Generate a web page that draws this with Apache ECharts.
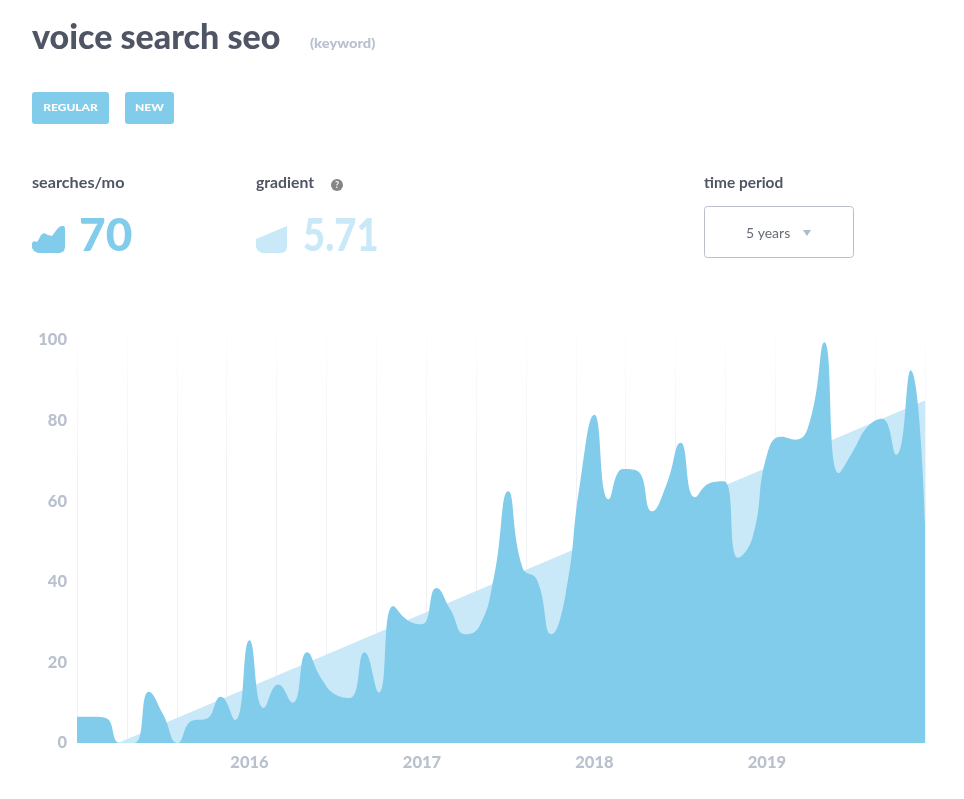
<!DOCTYPE html>
<html><head><meta charset="utf-8">
<style>html,body{margin:0;padding:0;background:#fff}#c{width:964px;height:799px}</style>
<script src="https://cdn.jsdelivr.net/npm/echarts@6/dist/echarts.min.js"></script>
</head><body><div id="c"></div>
<script>
const searches=[6.5,6.5,6.2,0,0,12.7,7,0,5.5,6,11.5,5.7,25.5,8.7,14.5,10,22.5,16,12,11.2,22.5,12.5,34,30.5,29.5,38.5,33,27,29,41,62.5,43.5,40.5,27,37,64.5,81.5,60.5,68,67.5,57.5,64,74.5,61,64.5,65,46,51,71.5,76,75.3,80,99.5,67,72.5,78.5,80.5,71.5,92.5,55];
const trendMonths=[2.85,59];
const trendValues=[0,85];
const yearLabels=['2016','2017','2018','2019'];
const yearMonths=[12,24,36,48];
const yTicks=[0,20,40,60,80,100];
const SANS='Lato, "Noto Sans", sans-serif';
const INK='#4f5564', MUTED='#b9c0ce', BLUE='#81cceb', PALE='#c9e9f8';
const chart=echarts.init(document.getElementById('c'),null,{renderer:'canvas'});
function t(x,y,text,font,fill,extra,scaleX){return {type:'text',x,y,originX:0,originY:0,scaleX:scaleX||1,silent:true,style:Object.assign({text,font,fill,textVerticalAlign:'middle'},extra||{})};}
function badge(x,w,text){return [
 {type:'rect',shape:{x,y:92,width:w,height:32,r:3},style:{fill:BLUE},silent:true},
 t(x+w/2,108,text,'900 10px '+SANS,'#fff',{textAlign:'center'},1.2)];}
chart.setOption({
 animation:false,
 grid:{left:77,right:39,top:320,bottom:56,containLabel:false},
 xAxis:[
  {type:'value',min:0,max:59,position:'bottom',
   axisLine:{show:false},axisTick:{show:false},splitLine:{show:false},
   axisLabel:{customValues:yearMonths,formatter:v=>yearLabels[yearMonths.indexOf(v)],color:MUTED,fontFamily:SANS,fontWeight:900,fontSize:16.5,margin:11}},
  {type:'value',min:0,max:59,interval:59/17,position:'bottom',
   axisLine:{show:false},axisTick:{show:false},axisLabel:{show:false},
   splitLine:{show:true,lineStyle:{width:1,color:{type:'linear',x:0,y:312,x2:0,y2:480,global:true,colorStops:[{offset:0,color:'#ffffff'},{offset:1,color:'#eff1f4'}]}}}}
 ],
 yAxis:{type:'value',min:0,max:105,interval:20,
  axisLine:{show:false},axisTick:{show:false},splitLine:{show:false},
  axisLabel:{customValues:yTicks,color:MUTED,fontFamily:SANS,fontWeight:900,fontSize:16.5,margin:10,verticalAlign:'middle'}},
 series:[
  {type:'line',name:'gradient',symbol:'none',xAxisIndex:0,data:trendMonths.map((m,i)=>[m,trendValues[i]]),
   lineStyle:{width:0},areaStyle:{color:PALE,opacity:1},z:2},
  {type:'line',name:'searches/mo',symbol:'none',xAxisIndex:0,smooth:0.5,
   data:searches.map((v,i)=>[i,v]),lineStyle:{width:0},areaStyle:{color:BLUE,opacity:1},z:3}
 ],
 graphic:{elements:[
  t(32,38,'voice search seo','900 34px '+SANS,INK),
  t(310,43,'(keyword)','900 14px '+SANS,MUTED,null,1.05),
  ...badge(32,77,'REGULAR'),...badge(125,49,'NEW'),
  t(32,183,'searches/mo','700 15px '+SANS,INK,null,1.08),
  t(256,183,'gradient','700 15px '+SANS,INK,null,1.05),
  {type:'circle',shape:{cx:337,cy:185,r:6},style:{fill:'#858585'},silent:true},
  t(337,185,'?','700 9px '+SANS,'#fff',{textAlign:'center'}),
  t(704,183,'time period','700 15px '+SANS,INK,null,1.03),
  {type:'polygon',silent:true,shape:{points:[[32,243],[34,241],[37,242],[39,239],[41,235],[44,233],[48,235],[52,236],[55,232],[58,228],[61,226],[64,226],[65,228],[65,247],[64,251],[60,253],[38,253],[34,251],[32,248]]},style:{fill:BLUE}},
  t(79,236,'70','900 46px '+SANS,BLUE),
  {type:'polygon',silent:true,shape:{points:[[256,239],[287,226],[287,247],[286,251],[282,253],[262,253],[258,251],[256,247]]},style:{fill:PALE}},
  t(303,236,'5.71','900 46px '+SANS,PALE,null,0.83),
  {type:'rect',shape:{x:704.5,y:206.5,width:149,height:51,r:3},style:{fill:'#fff',stroke:'#b9bec9',lineWidth:1},silent:true},
  t(746,233,'5 years','400 14px '+SANS,'#666b76'),
  {type:'polygon',silent:true,shape:{points:[[803,230],[811,230],[807,236]]},style:{fill:'#b0b9c6'}}
 ]}
});
</script></body></html>
